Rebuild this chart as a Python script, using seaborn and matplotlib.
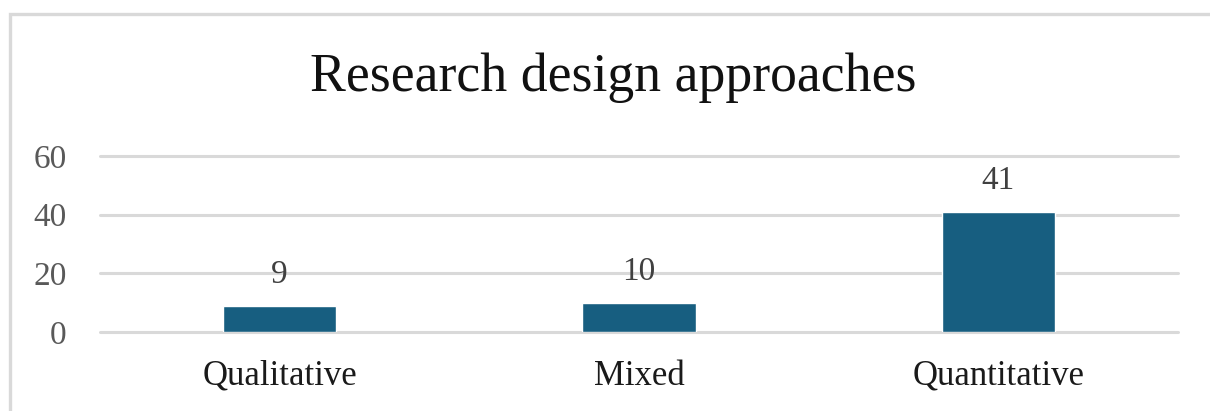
import matplotlib
matplotlib.use("Agg")
import matplotlib.pyplot as plt
import seaborn as sns
import pandas as pd
from matplotlib.patches import Rectangle

categories = ["Qualitative", "Mixed", "Quantitative"]
counts = [9, 10, 41]
y_ticks = [0, 20, 40, 60]
title = "Research design approaches"

df = pd.DataFrame({"approach": categories, "count": counts})

sns.set_theme(style="white")
plt.rcParams["font.family"] = ["Liberation Serif", "DejaVu Serif"]

fig = plt.figure(figsize=(12.1, 4.11), dpi=100)
ax = fig.add_axes([100 / 1210, 1 - 332 / 411, 1078 / 1210, 176 / 411])

bar_color = "#175e80"
sns.barplot(data=df, x="approach", y="count", color=bar_color, width=0.315,
            saturation=1, ax=ax, zorder=3)

ax.set_ylim(0, 60)
ax.set_xlim(-0.5, len(categories) - 0.5)
ax.set_yticks(y_ticks)
ax.set_yticklabels([str(t) for t in y_ticks], color="#595959", fontsize=24)
ax.tick_params(axis="y", length=0, pad=24)
ax.tick_params(axis="x", length=0, pad=20, labelsize=25, labelcolor="#1a1a1a")
ax.set_xlabel("")
ax.set_ylabel("")
for s in ax.spines.values():
    s.set_visible(False)
ax.grid(axis="y", color="#d9d9d9", linewidth=2.2, zorder=0)
for gl in ax.get_ygridlines():
    gl.set_clip_on(False)
ax.set_axisbelow(True)

for i, v in enumerate(counts):
    ax.annotate(str(v), (i, v), xytext=(0, 11), textcoords="offset points",
                ha="center", va="bottom", fontsize=24, color="#404040")

fig.text(613 / 1210, 1 - 78 / 411, title, ha="center", va="center",
         fontsize=38.7, color="#111111")

# chart-area frame: left and top edges visible, the rest runs off the canvas
fig.patches.append(Rectangle((9.5 / 1210, -0.1), 1.1, 1.1 - 14.5 / 411,
                             transform=fig.transFigure, fill=False,
                             edgecolor="#d9d9d9", linewidth=2.4))

fig.savefig("out.png", dpi=100, facecolor="white")
